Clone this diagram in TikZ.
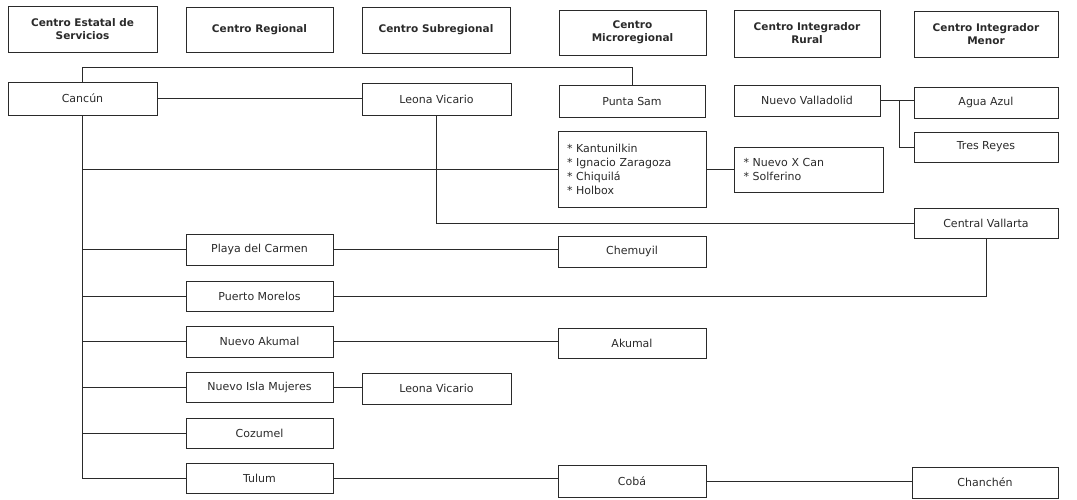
\documentclass[tikz,border=0pt]{standalone}
\usepackage{fontspec}
\setmainfont{DejaVu Sans}
\definecolor{ink}{HTML}{2A2A2A}
\begin{document}
\begin{tikzpicture}[x=1pt,y=-1pt,
  box/.style={draw=ink,line width=0.9pt,text=ink,font=\fontsize{11}{14}\selectfont,inner sep=2pt,align=center},
  head/.style={box,font=\fontsize{10.5}{13}\selectfont\bfseries},
  link/.style={draw=ink,line width=0.8pt}]
\useasboundingbox (0,0) rectangle (1077,500);
% headers
\node[head,minimum width=149pt,minimum height=46pt] (h1) at (82.5,29) {Centro Estatal de\\Servicios};
\node[head,minimum width=147pt,minimum height=45pt] (h2) at (259.5,29.5) {Centro Regional};
\node[head,minimum width=148pt,minimum height=46pt] (h3) at (436,30) {Centro Subregional};
\node[head,minimum width=147pt,minimum height=45pt] (h4) at (632.5,32.5) {Centro\\Microregional};
\node[head,minimum width=146pt,minimum height=47pt] (h5) at (807,33.5) {Centro Integrador\\Rural};
\node[head,minimum width=144pt,minimum height=46pt] (h6) at (986,34) {Centro Integrador\\Menor};
% row nodes
\node[box,minimum width=149pt,minimum height=33pt] (cancun) at (82.5,98.5) {Cancún};
\node[box,minimum width=149pt,minimum height=32pt] (leona1) at (436.5,99) {Leona Vicario};
\node[box,minimum width=146pt,minimum height=32pt] (puntasam) at (632,101) {Punta Sam};
\node[box,minimum width=146pt,minimum height=31pt] (valladolid) at (807,100.5) {Nuevo Valladolid};
\node[box,minimum width=144pt,minimum height=31pt] (agua) at (986,102.5) {Agua Azul};
\node[box,minimum width=144pt,minimum height=30pt] (tres) at (986,147) {Tres Reyes};
\node[box,minimum width=148pt,minimum height=76pt,text width=130pt,align=left] (kantun) at (632,169)
  {{*} Kantunilkin\\{*} Ignacio Zaragoza\\{*} Chiquilá\\{*} Holbox};
\node[box,minimum width=149pt,minimum height=45pt,text width=130pt,align=left] (xcan) at (808.5,169.5)
  {{*} Nuevo X Can\\{*} Solferino};
\node[box,minimum width=144pt,minimum height=30pt] (vallarta) at (986,223) {Central Vallarta};
\node[box,minimum width=147pt,minimum height=31pt] (playa) at (259.5,249.5) {Playa del Carmen};
\node[box,minimum width=148pt,minimum height=31pt] (chemuyil) at (632,251.5) {Chemuyil};
\node[box,minimum width=147pt,minimum height=30pt] (puerto) at (259.5,296) {Puerto Morelos};
\node[box,minimum width=147pt,minimum height=31pt] (nakumal) at (259.5,341.5) {Nuevo Akumal};
\node[box,minimum width=148pt,minimum height=30pt] (akumal) at (632,343) {Akumal};
\node[box,minimum width=147pt,minimum height=30pt] (isla) at (259.5,387) {Nuevo Isla Mujeres};
\node[box,minimum width=149pt,minimum height=31pt] (leona2) at (436.5,388.5) {Leona Vicario};
\node[box,minimum width=147pt,minimum height=30pt] (cozumel) at (259.5,433) {Cozumel};
\node[box,minimum width=147pt,minimum height=30pt] (tulum) at (259.5,478) {Tulum};
\node[box,minimum width=148pt,minimum height=32pt] (coba) at (632,481) {Cobá};
\node[box,minimum width=146pt,minimum height=31pt] (chanchen) at (985,482.5) {Chanchén};
% connectors
\draw[link] (cancun.north) -- ++(0,-14) -| (puntasam.north);
\draw[link] (cancun.east) -- (cancun.east -| leona1.west);
\draw[link] (cancun.south) -- (cancun.south |- tulum.west) -- (tulum.west);
\draw[link] (cancun.south |- kantun.west) -- (kantun.west);
\draw[link] (cancun.south |- playa.west) -- (playa.west);
\draw[link] (cancun.south |- puerto.west) -- (puerto.west);
\draw[link] (cancun.south |- nakumal.west) -- (nakumal.west);
\draw[link] (cancun.south |- isla.west) -- (isla.west);
\draw[link] (cancun.south |- cozumel.west) -- (cozumel.west);
\draw[link] (leona1.south) |- (vallarta.west);
\draw[link] (kantun.east) -- (kantun.east -| xcan.west);
\draw[link] (valladolid.east) -- (valladolid.east -| agua.west);
\coordinate (vj) at (899,100.5);
\draw[link] (vj) |- (tres.west);
\draw[link] (playa.east) -- (playa.east -| chemuyil.west);
\draw[link] (puerto.east) -| (vallarta.south);
\draw[link] (nakumal.east) -- (nakumal.east -| akumal.west);
\draw[link] (isla.east) -- (isla.east -| leona2.west);
\draw[link] (tulum.east) -- (tulum.east -| coba.west);
\draw[link] (coba.east) -- (coba.east -| chanchen.west);
\end{tikzpicture}
\end{document}
